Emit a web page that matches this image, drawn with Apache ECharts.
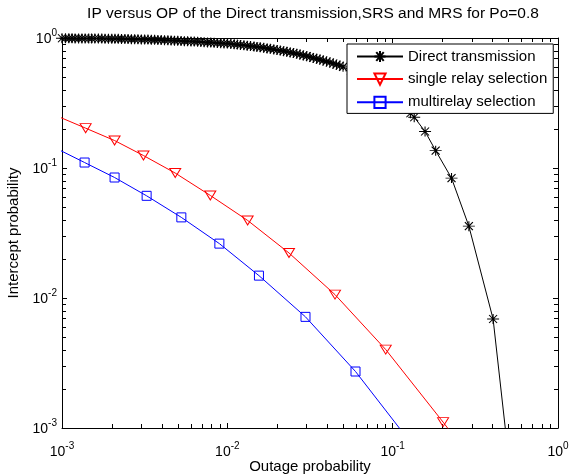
<!DOCTYPE html>
<html><head><meta charset="utf-8">
<script src="https://cdn.jsdelivr.net/npm/echarts@6/dist/echarts.min.js"></script>
<style>html,body{margin:0;padding:0;background:#fff}#c{width:569px;height:476px}</style>
</head><body><div id="c"></div>
<script>
// ---------------- data ----------------
const titleText = 'IP versus OP of the Direct transmission,SRS and MRS for Po=0.8';
const xName = 'Outage probability';
const yName = 'Intercept probability';
const seriesNames = ['Direct transmission', 'single relay selection', 'multirelay selection'];
const tickExponents = [-3, -2, -1, 0];
const decades = [0.001, 0.01, 0.1];
const minorMultipliers = [2, 3, 4, 5, 6, 7, 8, 9];

const directOP = [
  0.00100, 0.00105, 0.00110, 0.00115, 0.00120, 0.00126, 0.00132, 0.00138, 0.00145, 0.00151,
  0.00158, 0.00166, 0.00174, 0.00182, 0.00191, 0.00200, 0.00209, 0.00219, 0.00229, 0.00240,
  0.00251, 0.00263, 0.00275, 0.00288, 0.00302, 0.00316, 0.00331, 0.00347, 0.00363, 0.00380,
  0.00398, 0.00417, 0.00437, 0.00457, 0.00479, 0.00501, 0.00525, 0.00550, 0.00575, 0.00603,
  0.00631, 0.00661, 0.00692, 0.00724, 0.00759, 0.00794, 0.00832, 0.00871, 0.00912, 0.00955,
  0.0100, 0.0105, 0.0110, 0.0115, 0.0120, 0.0126, 0.0132, 0.0138, 0.0145, 0.0151,
  0.0158, 0.0166, 0.0174, 0.0182, 0.0191, 0.0200, 0.0209, 0.0219, 0.0229, 0.0240,
  0.0251, 0.0263, 0.0275, 0.0288, 0.0302, 0.0316, 0.0331, 0.0347, 0.0363, 0.0380,
  0.0398, 0.0417, 0.0437, 0.0457, 0.0479, 0.0501,
  0.056, 0.063, 0.071, 0.079, 0.089, 0.100, 0.110, 0.120, 0.128,
  0.135, 0.157, 0.182, 0.227, 0.289, 0.405, 0.52
];
const directIP = [
  0.995, 0.995, 0.994, 0.994, 0.993, 0.993, 0.993, 0.992, 0.992, 0.991,
  0.991, 0.990, 0.989, 0.988, 0.987, 0.987, 0.986, 0.985, 0.984, 0.983,
  0.982, 0.980, 0.979, 0.977, 0.975, 0.974, 0.972, 0.970, 0.968, 0.967,
  0.965, 0.962, 0.960, 0.957, 0.954, 0.952, 0.949, 0.946, 0.943, 0.941,
  0.938, 0.935, 0.932, 0.928, 0.925, 0.922, 0.919, 0.916, 0.912, 0.909,
  0.906, 0.901, 0.895, 0.890, 0.884, 0.879, 0.873, 0.866, 0.860, 0.854,
  0.848, 0.840, 0.832, 0.825, 0.817, 0.809, 0.801, 0.792, 0.784, 0.775,
  0.767, 0.756, 0.746, 0.735, 0.725, 0.714, 0.703, 0.692, 0.682, 0.671,
  0.660, 0.648, 0.636, 0.624, 0.612, 0.600,
  0.559, 0.515, 0.475, 0.438, 0.395, 0.352, 0.318, 0.287, 0.264,
  0.246, 0.191, 0.136, 0.0836, 0.0357, 0.00689, 0.0004
];
const srsOP = [0.000926, 0.00139, 0.00208, 0.00311, 0.00484, 0.00789, 0.01327, 0.0236, 0.0448, 0.0908, 0.2018, 0.46];
const srsIP = [0.252, 0.2025, 0.1626, 0.1247, 0.0914, 0.0615, 0.0395, 0.0222, 0.01062, 0.00401, 0.00111, 0.00028];
const mrsOP = [0.000901, 0.00137, 0.00208, 0.00325, 0.00527, 0.00895, 0.01553, 0.0297, 0.0596, 0.1324];
const mrsIP = [0.1436, 0.1102, 0.0845, 0.0611, 0.0417, 0.0262, 0.01486, 0.00716, 0.00272, 0.000735];

// ---------------- chart ----------------
const FONT = '"Liberation Sans", Arial, Helvetica, sans-serif';
const pair = (xs, ys) => xs.map((x, i) => [x, ys[i]]);
const minorVals = [];
decades.forEach(d => minorMultipliers.forEach(m => minorVals.push(+(d * m).toPrecision(3))));

const rich = {
  b: {fontSize: 14, lineHeight: 16, verticalAlign: 'bottom', fontFamily: FONT, color: '#000'},
  s: {fontSize: 10, lineHeight: 10, padding: [0, 0, 8, 0], verticalAlign: 'bottom', fontFamily: FONT, color: '#000'}
};
function fmt(v) {
  const e = Math.round(Math.log10(v));
  const k = tickExponents.indexOf(e);
  return '{b|10}{s|' + (k >= 0 ? tickExponents[k] : e) + '}';
}

const ASTER = 'path://M6,0L6,10M0,5L12,5M2,1L10,9M2,9L10,1';
const TRI = 'path://M0,0L10,0L5,9Z';

function minorRender(isX) {
  return function (params, api) {
    const cs = params.coordSys;
    const p = api.coord([api.value(0), api.value(1)]);
    const L = 4;
    const st = {stroke: '#000', lineWidth: 1};
    if (isX) {
      const x = Math.round(p[0]) + 0.5;
      const yb = cs.y + cs.height, yt = cs.y;
      return {type: 'group', children: [
        {type: 'line', shape: {x1: x, y1: yb, x2: x, y2: yb - L}, style: st},
        {type: 'line', shape: {x1: x, y1: yt, x2: x, y2: yt + L}, style: st}
      ]};
    } else {
      const y = Math.round(p[1]) + 0.5;
      const xl = cs.x, xr = cs.x + cs.width;
      return {type: 'group', children: [
        {type: 'line', shape: {x1: xl, y1: y, x2: xl + L, y2: y}, style: st},
        {type: 'line', shape: {x1: xr, y1: y, x2: xr - L, y2: y}, style: st}
      ]};
    }
  };
}

const axisCommon = {
  type: 'log', logBase: 10, min: 0.001, max: 1,
  axisLine: {show: true, onZero: false, lineStyle: {color: '#000', width: 1}},
  axisTick: {show: true, inside: true, length: 5, lineStyle: {color: '#000', width: 1}},
  splitLine: {show: false}, minorTick: {show: false}, minorSplitLine: {show: false}
};

const chart = echarts.init(document.getElementById('c'), null, {renderer: 'canvas'});
chart.setOption({
  animation: false,
  backgroundColor: '#fff',
  title: {
    text: titleText, left: 308, top: 1, textAlign: 'center',
    textStyle: {fontSize: 15.5, fontWeight: 'normal', color: '#000', fontFamily: FONT}
  },
  grid: {left: 62, right: 11, top: 38, bottom: 48, containLabel: false, outerBoundsMode: 'none'},
  legend: {
    data: seriesNames, orient: 'vertical', left: 347, top: 44,
    padding: [5, 6, 3, 9], itemWidth: 46, itemHeight: 14, itemGap: 7,
    backgroundColor: '#fff', borderColor: '#000', borderWidth: 1, borderRadius: 0,
    textStyle: {fontSize: 15, color: '#000', fontFamily: FONT},
    selectedMode: false
  },
  xAxis: [
    Object.assign({}, axisCommon, {
      position: 'bottom',
      axisLabel: {formatter: fmt, rich: rich, margin: 15},
      name: xName, nameLocation: 'middle', nameGap: 31, nameMoveOverlap: false,
      nameTextStyle: {fontSize: 15, color: '#000', fontFamily: FONT}
    }),
    Object.assign({}, axisCommon, {position: 'top', axisLabel: {show: false}})
  ],
  yAxis: [
    Object.assign({}, axisCommon, {
      position: 'left',
      axisLabel: {formatter: fmt, rich: rich, margin: 5},
      name: yName, nameLocation: 'middle', nameGap: 41, nameMoveOverlap: false,
      nameTextStyle: {fontSize: 15, color: '#000', fontFamily: FONT}
    }),
    Object.assign({}, axisCommon, {position: 'right', axisLabel: {show: false}})
  ],
  series: [
    {
      name: seriesNames[0], type: 'line', data: pair(directOP, directIP),
      symbol: ASTER, symbolSize: [12, 10], clip: true, silent: true,
      lineStyle: {color: '#000', width: 1},
      itemStyle: {color: '#000', borderColor: '#000', borderWidth: 1},
      emphasis: {disabled: true}, z: 3
    },
    {
      name: seriesNames[1], type: 'line', data: pair(srsOP, srsIP),
      symbol: TRI, symbolSize: [11, 9], clip: true, silent: true,
      lineStyle: {color: '#ff0000', width: 1},
      itemStyle: {color: 'none', borderColor: '#ff0000', borderWidth: 1},
      emphasis: {disabled: true}, z: 3
    },
    {
      name: seriesNames[2], type: 'line', data: pair(mrsOP, mrsIP),
      symbol: 'rect', symbolSize: 9, clip: true, silent: true,
      lineStyle: {color: '#0000ff', width: 1},
      itemStyle: {color: 'none', borderColor: '#0000ff', borderWidth: 1},
      emphasis: {disabled: true}, z: 3
    },
    {
      type: 'custom', silent: true, renderItem: minorRender(true),
      data: minorVals.map(v => [v, 0.5]), z: 2
    },
    {
      type: 'custom', silent: true, renderItem: minorRender(false),
      data: minorVals.map(v => [0.5, v]), z: 2
    }
  ]
});
</script>
</body></html>
